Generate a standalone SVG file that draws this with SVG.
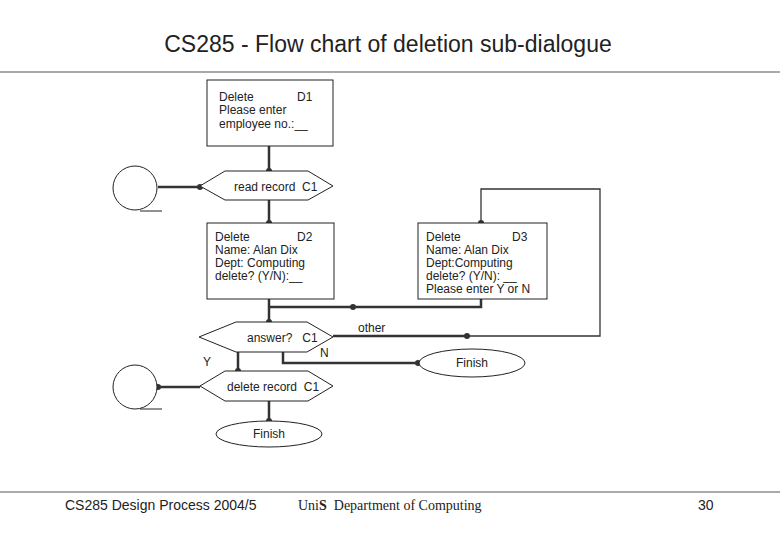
<svg xmlns="http://www.w3.org/2000/svg" width="780" height="540" viewBox="0 0 780 540">
<style>
text{font-family:"Liberation Sans",Arial,sans-serif;fill:#222;white-space:pre}
.t{font-size:12px}
.s{fill:#fff;stroke:#222;stroke-width:1}
.c{fill:none;stroke:#333;stroke-width:2.5}
.thin{fill:none;stroke:#333;stroke-width:1.3}
</style>
<defs><marker id="d" viewBox="0 0 6 6" refX="3" refY="3" markerWidth="6" markerHeight="6" markerUnits="userSpaceOnUse"><circle cx="3" cy="3" r="3" fill="#333"/></marker></defs>
<rect width="780" height="540" fill="#fff"/>
<text x="388" y="52" font-size="23" text-anchor="middle">CS285 - Flow chart of deletion sub-dialogue</text>
<line x1="0" y1="72" x2="780" y2="72" stroke="#555" stroke-width="1"/>
<line x1="0" y1="492" x2="780" y2="492" stroke="#555" stroke-width="1"/>
<g id="connectors">
<path class="c" d="M269 146V171" marker-end="url(#d)"/>
<path class="c" d="M158 187H200" marker-end="url(#d)"/>
<path class="c" d="M269 200V223" marker-end="url(#d)"/>
<path class="c" d="M269 299V322" marker-end="url(#d)"/>
<path class="c" d="M481 299V307H353" marker-end="url(#d)"/>
<path class="c" d="M353 307H269"/>
<path class="c" d="M333 336H467" marker-end="url(#d)"/>
<path class="thin" d="M467 336H600V189H481V223" marker-end="url(#d)"/>
<path class="c" d="M283 352V363H418" marker-end="url(#d)"/>
<path class="c" d="M238 352V371" marker-end="url(#d)"/>
<path class="c" d="M200 387H158" marker-end="url(#d)"/>
<path class="c" d="M269 401V421" marker-end="url(#d)"/>
<text x="358" y="332" class="t">other</text>
<text x="320" y="357" class="t">N</text>
<text x="203" y="366" class="t">Y</text>
</g>
<g id="D1"><rect class="s" x="207" y="80" width="126" height="66"/>
<text class="t" x="219" y="101">Delete</text><text class="t" x="297" y="101">D1</text>
<text class="t" x="219" y="114">Please enter</text><text class="t" x="219" y="128">employee no.:__</text></g>
<g id="read"><polygon class="s" points="200,186 225,171 308,171 333,186 308,200 225,200"/>
<text class="t" x="234" y="191">read record  C1</text></g>
<g id="circle1"><circle class="s" cx="135" cy="188" r="22"/><line x1="140" y1="211" x2="162" y2="211" stroke="#222"/></g>
<g id="D2"><rect class="s" x="207" y="223" width="127" height="76"/>
<text class="t" x="215" y="241">Delete</text><text class="t" x="297" y="241">D2</text>
<text class="t" x="215" y="254">Name: Alan Dix</text><text class="t" x="215" y="267">Dept: Computing</text><text class="t" x="215" y="280">delete? (Y/N):__</text></g>
<g id="D3"><rect class="s" x="418" y="223" width="129" height="76"/>
<text class="t" x="426" y="241">Delete</text><text class="t" x="512" y="241">D3</text>
<text class="t" x="426" y="254">Name: Alan Dix</text><text class="t" x="426" y="267">Dept:Computing</text><text class="t" x="426" y="280">delete? (Y/N): __</text><text class="t" x="426" y="293">Please enter Y or N</text></g>
<g id="answer"><polygon class="s" points="199,337 236,322 307,322 333,337 307,352 236,352"/>
<text class="t" x="247" y="342">answer?   C1</text></g>
<g id="finish1"><ellipse class="s" cx="472" cy="363" rx="53" ry="14"/><text class="t" x="472" y="367" text-anchor="middle">Finish</text></g>
<g id="delete"><polygon class="s" points="200,386 225,371 308,371 333,386 308,401 225,401"/>
<text class="t" x="227" y="391">delete record  C1</text></g>
<g id="circle2"><circle class="s" cx="135" cy="387" r="22"/><line x1="140" y1="409" x2="162" y2="409" stroke="#222"/></g>
<g id="finish2"><ellipse class="s" cx="269" cy="434" rx="53" ry="13"/><text class="t" x="269" y="438" text-anchor="middle">Finish</text></g>
<text x="65" y="510" font-size="14">CS285 Design Process 2004/5</text>
<text x="298" y="510" font-size="14" style="font-family:'Liberation Serif',serif">Uni<tspan font-weight="bold">S</tspan>  Department of Computing</text>
<text x="698" y="510" font-size="14">30</text>
</svg>
